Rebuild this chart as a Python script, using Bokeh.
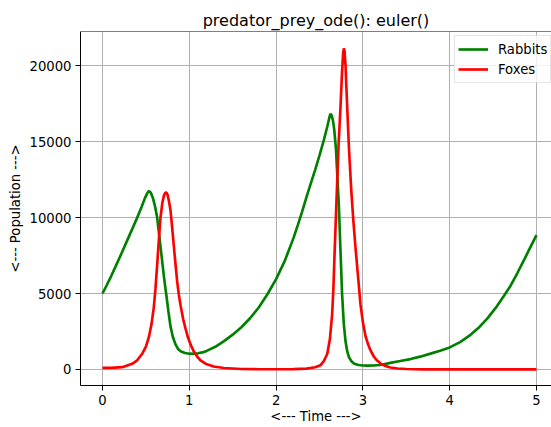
from bokeh.plotting import figure
from bokeh.models import Range1d, FixedTicker, Span, ColumnDataSource
from bokeh.embed import file_html
from bokeh.resources import INLINE

# ---- data ----
rabbit_time = [0.0, 0.05, 0.1, 0.15, 0.2, 0.25, 0.3, 0.35, 0.4, 0.45, 0.49, 0.515, 0.534,
               0.555, 0.58, 0.605, 0.63, 0.66, 0.69, 0.71, 0.733, 0.76, 0.783, 0.81,
               0.841, 0.87, 0.9, 0.95, 1.0, 1.05, 1.1, 1.15, 1.2, 1.3, 1.4, 1.5, 1.6,
               1.7, 1.8, 1.9, 2.0, 2.1, 2.2, 2.25, 2.3, 2.35, 2.4, 2.45, 2.5, 2.55, 2.59,
               2.61, 2.625, 2.64, 2.655, 2.67, 2.69, 2.705, 2.723, 2.742, 2.76, 2.78,
               2.80, 2.819, 2.84, 2.865, 2.9, 2.95, 3.0, 3.06, 3.12, 3.2, 3.318, 3.43,
               3.548, 3.66, 3.779, 3.89, 4.0, 4.12, 4.24, 4.34, 4.43, 4.53, 4.62, 4.7,
               4.78, 4.86, 4.93, 5.0]
rabbit_pop = [5000, 5560, 6150, 6770, 7400, 8050, 8700, 9350, 10000, 10700, 11300, 11600,
              11750, 11650, 11300, 10750, 10000, 8500, 7000, 6000, 5000, 3800, 2850, 2150,
              1650, 1350, 1200, 1080, 1035, 1030, 1060, 1120, 1220, 1490, 1860, 2290, 2780,
              3370, 4080, 4950, 5950, 7150, 8650, 9500, 10400, 11350, 12250, 13150, 14100,
              15100, 16000, 16500, 16830, 16750, 16400, 15800, 14500, 12800, 10800, 7800,
              5000, 3000, 1850, 1200, 800, 560, 380, 290, 260, 250, 258, 290, 430, 550,
              680, 840, 1040, 1230, 1450, 1800, 2280, 2780, 3330, 4050, 4800, 5500,
              6350, 7250, 8050, 8850]

fox_time = [0.0, 0.1, 0.227, 0.342, 0.4, 0.457, 0.5, 0.534, 0.565, 0.591, 0.61, 0.63,
            0.65, 0.668, 0.69, 0.71, 0.725, 0.737, 0.75, 0.765, 0.783, 0.80, 0.822,
            0.84, 0.86, 0.88, 0.9, 0.93, 0.956, 0.985, 1.014, 1.05, 1.09, 1.129, 1.187,
            1.28, 1.4, 1.6, 1.8, 2.0, 2.2, 2.35, 2.45, 2.51, 2.55, 2.59, 2.62, 2.646,
            2.66, 2.676, 2.69, 2.704, 2.72, 2.742, 2.76, 2.772, 2.78, 2.788, 2.80,
            2.819, 2.84, 2.865, 2.89, 2.915, 2.94, 2.972, 3.0, 3.03, 3.06, 3.088,
            3.126, 3.16, 3.2, 3.26, 3.318, 3.4, 3.5, 3.7, 4.0, 4.5, 5.0]
fox_pop = [100, 105, 150, 370, 600, 1030, 1500, 2120, 3000, 4090, 5300, 6900,
           8600, 10000, 11000, 11500, 11650, 11650, 11500, 11100, 10500, 9500, 8100,
           7000, 5800, 4900, 4200, 3300, 2700, 2100, 1650, 1200, 850, 600, 380,
           190, 90, 30, 12, 8, 15, 50, 140, 270, 550, 1030, 2000, 3650,
           5300, 8000, 10200, 12400, 14800, 17300, 19600, 20800, 21150, 21000, 20000,
           17300, 14500, 11900, 9800, 8000, 6400, 4300, 3100, 2200, 1650, 1250,
           850, 600, 400, 220, 130, 60, 25, 6, 1, 0, 0]

x_ticks = [0, 1, 2, 3, 4, 5]
y_ticks = [0, 5000, 10000, 15000, 20000]

title_text = "predator_prey_ode(): euler()"
x_label = "<--- Time --->"
y_label = "<--- Population --->"

FONT = "DejaVu Sans"
TXT = "13.2px"

Y0, Y1 = -1060, 22260
p = figure(width=551, height=427, output_backend="svg", toolbar_location=None,
           x_range=Range1d(-0.2535, 5.173), y_range=Range1d(Y0, Y1),
           min_border_left=80, min_border_right=0, min_border_top=31,
           min_border_bottom=42)

p.title.text = title_text
p.title.align = "center"
p.title.text_font = FONT
p.title.text_font_size = "16px"
p.title.text_font_style = "normal"
p.title.text_color = "#000000"
p.title.standoff = 4

p.background_fill_color = "white"
p.border_fill_color = "white"
p.outline_line_color = None

for ax, ticks, lab in ((p.xaxis[0], x_ticks, x_label), (p.yaxis[0], y_ticks, y_label)):
    ax.ticker = FixedTicker(ticks=ticks)
    ax.minor_tick_line_color = None
    ax.minor_tick_out = 0
    ax.minor_tick_in = 0
    ax.major_tick_in = 0
    ax.major_tick_out = 5
    ax.major_label_standoff = 4
    ax.major_label_text_font = FONT
    ax.major_label_text_font_size = TXT
    ax.major_label_text_color = "#000000"
    ax.axis_label = lab
    ax.axis_label_text_font = FONT
    ax.axis_label_text_font_size = TXT
    ax.axis_label_text_font_style = "normal"
    ax.axis_label_text_color = "#000000"
    ax.axis_line_color = "black"
    ax.major_tick_line_color = "black"

p.xaxis[0].axis_label_standoff = 1
p.yaxis[0].axis_label_standoff = 4
p.yaxis[0].formatter.use_scientific = False

p.xgrid.grid_line_color = "#b0b0b0"
p.ygrid.grid_line_color = "#b0b0b0"
p.xgrid.grid_line_width = 1
p.ygrid.grid_line_width = 1

p.add_layout(Span(location=Y1, dimension="width", line_color="black", line_width=1))

src_r = ColumnDataSource(dict(t=rabbit_time, v=rabbit_pop))
src_f = ColumnDataSource(dict(t=fox_time, v=fox_pop))
p.line("t", "v", source=src_r, line_color="green", line_width=2.65, legend_label="Rabbits")
p.line("t", "v", source=src_f, line_color="red", line_width=2.65, legend_label="Foxes")

p.legend.location = (374, 302)
p.legend.padding = 3
p.legend.spacing = 0
p.legend.margin = 0
p.legend.glyph_width = 30
p.legend.glyph_height = 20
p.legend.label_height = 20
p.legend.label_standoff = 10
p.legend.label_text_font = FONT
p.legend.label_text_font_size = TXT
p.legend.label_text_color = "#000000"
p.legend.border_line_color = "#cccccc"
p.legend.background_fill_alpha = 0.8

open("out.html", "w").write(file_html(p, INLINE))
